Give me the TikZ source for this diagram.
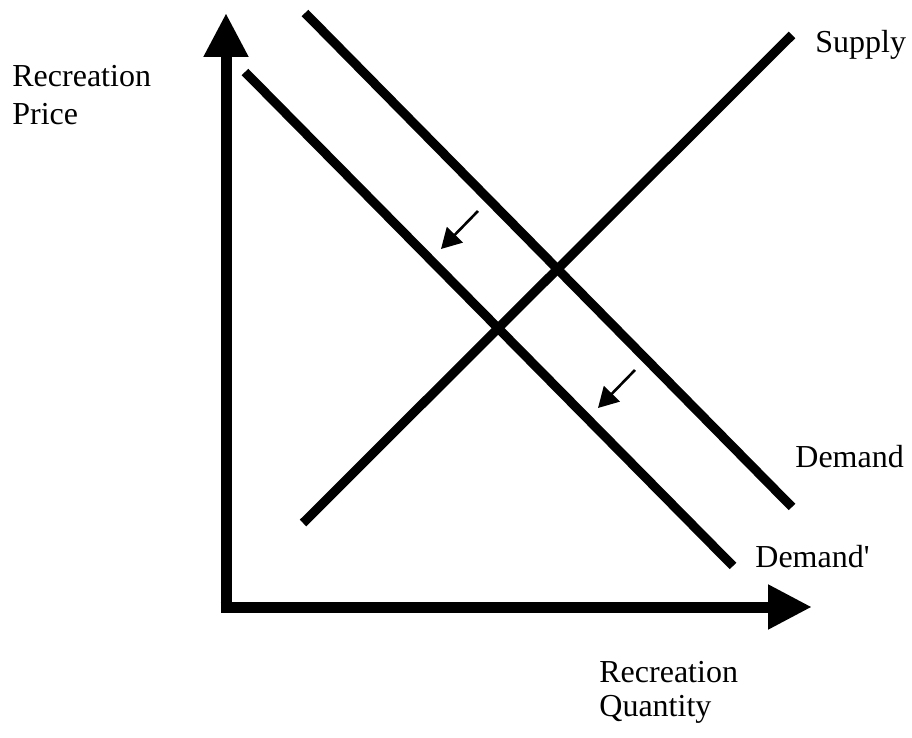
\documentclass[tikz,border=0pt]{standalone}
\usepackage{fontspec}
\setmainfont{Liberation Serif}
\usetikzlibrary{arrows.meta}

\begin{document}
\begin{tikzpicture}[
    x=0.5pt, y=-0.5pt,
    axis/.style={line width=5.5pt, line join=miter, -{Triangle[length=22pt, width=21pt]}},
    curve/.style={line width=4.6pt},
    shiftarrow/.style={line width=1.3pt, -{Triangle[length=10pt, width=11pt]}},
    lbl/.style={font=\fontsize{16}{18}\selectfont, align=left, inner sep=0pt, anchor=north west}
]
    \useasboundingbox (0,0) rectangle (912,738);

    % ================= AXES =================
    \coordinate (Origin) at (226,607);
    \coordinate (PriceTip) at (226,13);
    \coordinate (QtyTip) at (812,607);
    \draw[axis] (Origin) -- (PriceTip);
    \draw[axis] ([xshift=-2.75pt]Origin) -- (QtyTip);

    % ================= CURVES =================
    \coordinate (SupplyLow) at (303,523);
    \coordinate (SupplyHigh) at (792,35);
    \coordinate (DemandHigh) at (305,13);
    \coordinate (DemandLow) at (792,507);
    \coordinate (DemandNewHigh) at (245,72);
    \coordinate (DemandNewLow) at (733,566);

    \draw[curve] (SupplyLow) -- (SupplyHigh);
    \draw[curve] (DemandHigh) -- (DemandLow);
    \draw[curve] (DemandNewHigh) -- (DemandNewLow);

    % Shift of demand
    \coordinate (ShiftAStart) at (478,211);
    \coordinate (ShiftAEnd) at (441,249);
    \coordinate (ShiftBStart) at (635,370);
    \coordinate (ShiftBEnd) at (598,408);
    \draw[shiftarrow] (ShiftAStart) -- (ShiftAEnd);
    \draw[shiftarrow] (ShiftBStart) -- (ShiftBEnd);

    % ================= LABELS =================
    \node[lbl, font=\fontsize{16}{19}\selectfont] (PriceLbl) at (12,65) {Recreation\\Price};
    \node[lbl, font=\fontsize{16}{17}\selectfont] (QtyLbl) at (599,661) {Recreation\\Quantity};
    \node[lbl] (SupplyLbl) at (815,30) {Supply};
    \node[lbl] (DemandLbl) at (795,445) {Demand};
    \node[lbl] (DemandNewLbl) at (755,545) {Demand\textquotesingle};

\end{tikzpicture}
\end{document}
